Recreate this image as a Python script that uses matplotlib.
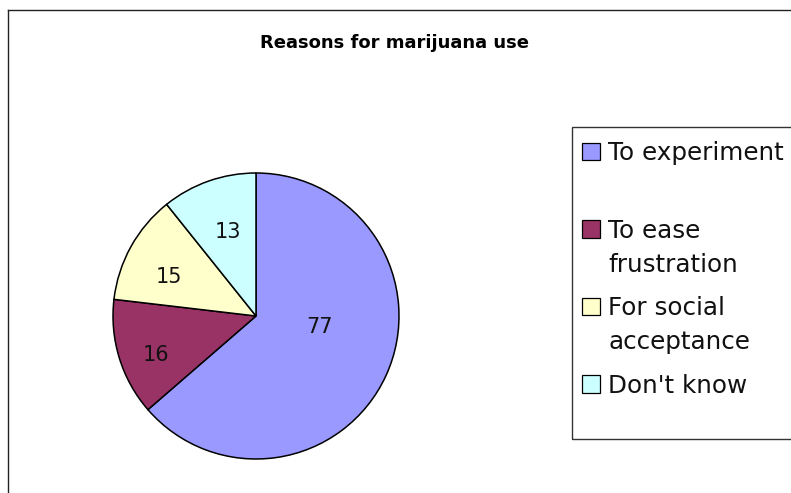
import matplotlib.pyplot as plt
from matplotlib.patches import Rectangle
from matplotlib.lines import Line2D
import numpy as np

title = "Reasons for marijuana use"
reasons = ["To experiment", "To ease\nfrustration", "For social\nacceptance", "Don't know"]
counts = [77, 16, 15, 13]
colours = ["#9999FF", "#993366", "#FFFFCC", "#CCFFFF"]

# excel puts the value labels a bit off the middle of each slice
label_dist = [0.45, 0.75, 0.67, 0.62]   # fraction of radius
label_turn = [15, 4.5, 5, -1]           # degrees from mid angle

W, H = 791, 493


def fx(x):
    return x / W


def fy(y):
    return 1 - y / H


fig = plt.figure(figsize=(W / 100, H / 100), dpi=100)

# chart area border, only the top and left edges are inside the picture
fig.add_artist(Line2D([fx(8), 1], [fy(9.5), fy(9.5)], color="#222222", lw=1.0))
fig.add_artist(Line2D([fx(8), fx(8)], [fy(9.5), 0], color="#222222", lw=1.0))

fig.text(fx(395), fy(48), title, ha="center", va="baseline",
         fontsize=13, fontweight="bold")

# pie
r_px = 143
lim = 1.1
side = 2 * r_px * lim
cx, cy = 256, 316
ax = fig.add_axes([fx(cx - side / 2), fy(cy + side / 2), side / W, side / H])
wedges, _ = ax.pie(counts, colors=colours, startangle=90, counterclock=False,
                   wedgeprops=dict(edgecolor="black", linewidth=1.1))
ax.set_xlim(-lim, lim)
ax.set_ylim(-lim, lim)

for w, n, d, t in zip(wedges, counts, label_dist, label_turn):
    a = np.deg2rad((w.theta1 + w.theta2) / 2 + t)
    ax.text(d * np.cos(a), d * np.sin(a), str(n), ha="center", va="center",
            fontsize=15, color="#111111")

# legend, drawn by hand so the entries get excel's equal slots
box_l, box_t, box_b = 571.7, 127.3, 439.3
fig.add_artist(Rectangle((fx(box_l), fy(box_b)), 1.05 - fx(box_l), fy(box_t) - fy(box_b),
                         transform=fig.transFigure, fill=False,
                         edgecolor="#333333", lw=1.0))
slot = 77.5
first_top = 142.7
sq = 17.5
line_h = 34
for i, (lab, c) in enumerate(zip(reasons, colours)):
    top = first_top + i * slot
    fig.add_artist(Rectangle((fx(582), fy(top + sq)), sq / W, sq / H,
                             transform=fig.transFigure, facecolor=c,
                             edgecolor="black", lw=0.9))
    for j, line in enumerate(lab.split("\n")):
        fig.text(fx(608), fy(top + sq + j * line_h), line, fontsize=17.7,
                 va="baseline", color="#111111")

fig.savefig("out.png", dpi=100)
